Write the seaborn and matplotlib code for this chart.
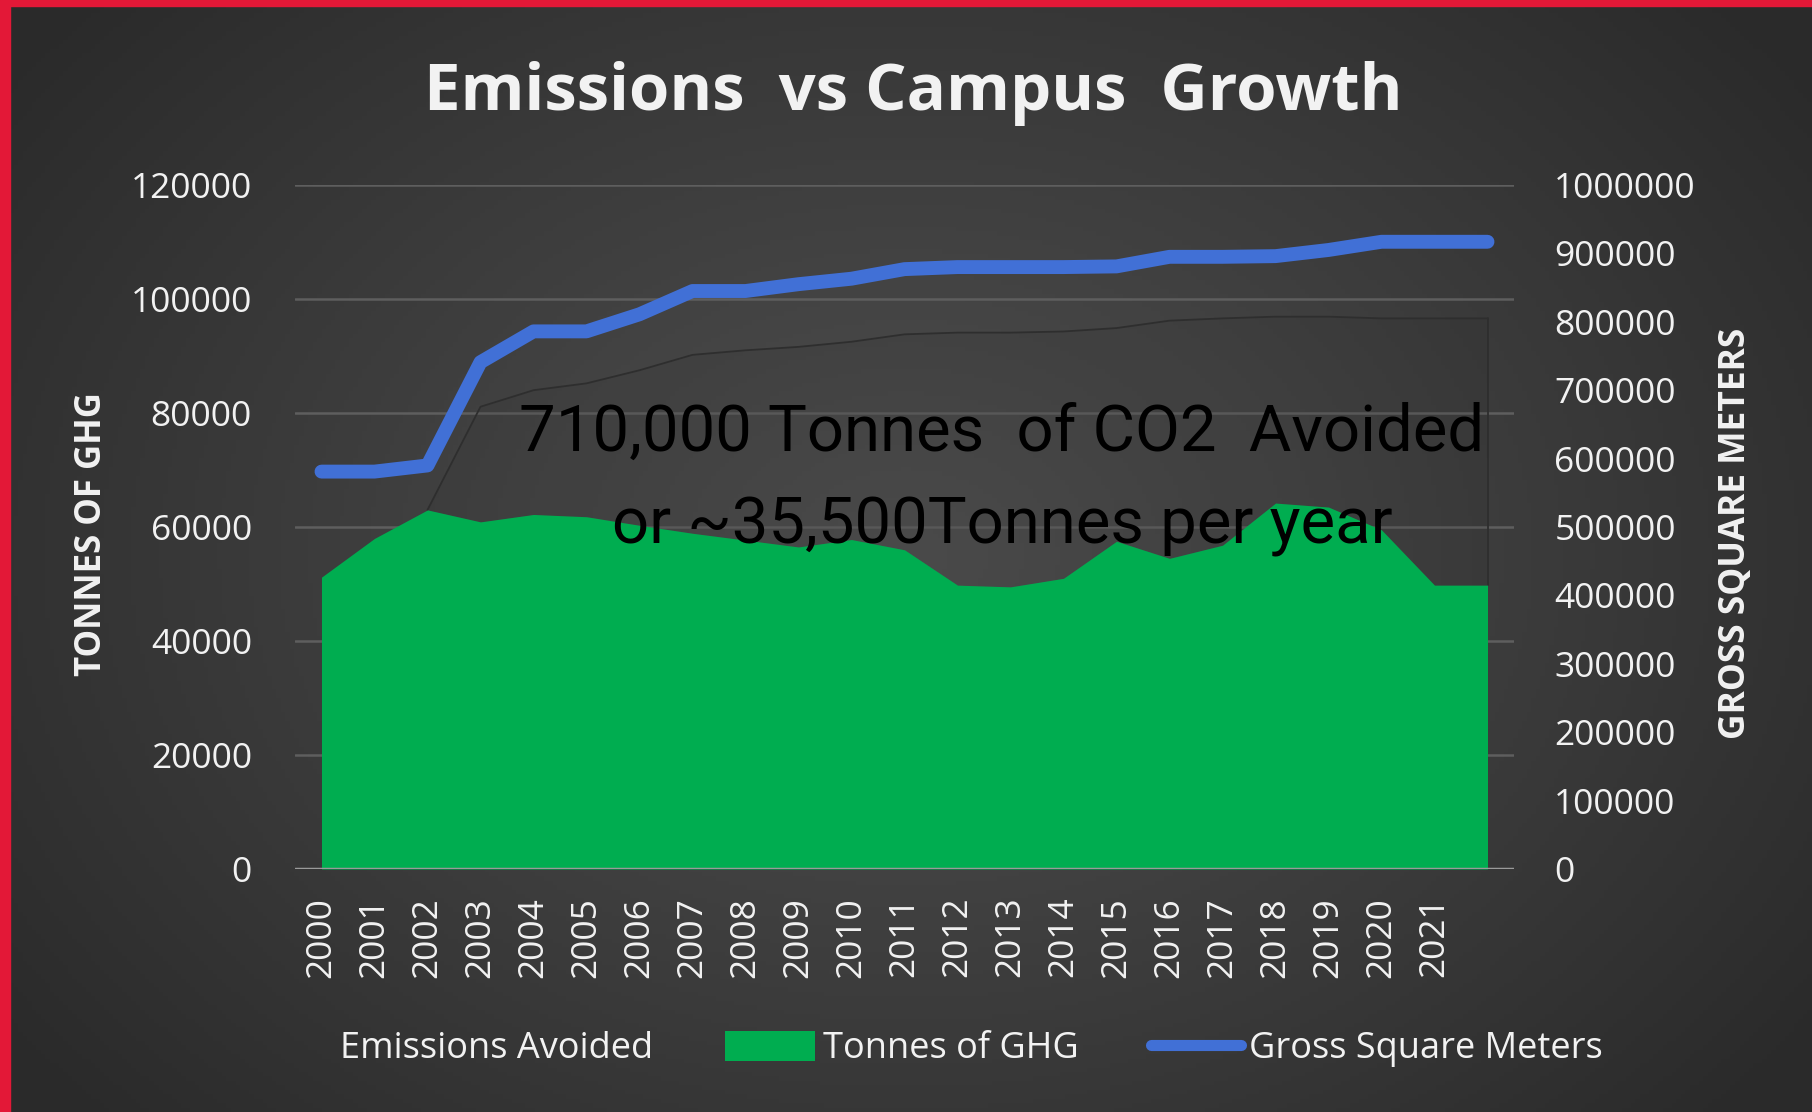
import numpy as np
import pandas as pd
import matplotlib
matplotlib.use("Agg")
import matplotlib.pyplot as plt
import seaborn as sns
from matplotlib.patches import Patch, Rectangle
from matplotlib.lines import Line2D

# ---------------- data ----------------
years = list(range(2000, 2023))
tick_labels = [str(y) for y in range(2000, 2022)]
tonnes_ghg = [51200, 58000, 63000, 60900, 62200, 61800, 60300, 58900, 57700, 56500,
              57800, 56000, 49800, 49500, 51000, 57500, 54500, 56800, 64200, 63500,
              59500, 49800, 49800]
emissions_avoided = [0, 0, 0, 20200, 21800, 23400, 27200, 31300, 33300, 35100,
                     34700, 37800, 44300, 44600, 43300, 37400, 41700, 39800, 32700, 33400,
                     37100, 46800, 46800]
gross_sq_m = [581000, 581000, 590000, 741000, 786000, 786000, 811000, 845000, 845000, 855000,
              863000, 877000, 880000, 880000, 880000, 881000, 895000, 895000, 896000, 905000,
              917000, 917000, 917000]
left_ticks = [0, 20000, 40000, 60000, 80000, 100000, 120000]
right_ticks = [0, 100000, 200000, 300000, 400000, 500000, 600000, 700000, 800000, 900000, 1000000]

title = "Emissions  vs Campus  Growth"
note_1 = "710,000 Tonnes  of CO2  Avoided"
note_2 = "or ~35,500Tonnes per year"

# ---------------- style ----------------
sns.set_theme(style="white")
plt.rcParams['font.family'] = ['Open Sans', 'DejaVu Sans']

GREEN = "#00ad50"
BLUE = "#4170d6"
TXT = "#f2f2f2"
RED = "#e31837"

W, H = 1812, 1112
fig = plt.figure(figsize=(W / 100, H / 100), dpi=100)

# background radial gradient
bg = fig.add_axes([0, 0, 1, 1], zorder=-10)
gx, gy = np.meshgrid(np.linspace(0, 1, 400), np.linspace(0, 1, 250))
r = np.sqrt(((gx - 0.5) / 0.62) ** 2 + ((gy - 0.5) / 0.75) ** 2)
r = np.clip(r, 0, 1) ** 1.1
inner = np.array([0x4e, 0x4e, 0x4e]) / 255
outer = np.array([0x2a, 0x2a, 0x2a]) / 255
img = inner[None, None, :] * (1 - r[..., None]) + outer[None, None, :] * r[..., None]
bg.imshow(img, extent=[0, 1, 0, 1], aspect='auto', origin='upper')
bg.set_xlim(0, 1); bg.set_ylim(0, 1)
bg.axis('off')

# red border (left and top)
fig.patches.append(Rectangle((0, 0), 10 / W, 1, transform=fig.transFigure, color=RED, zorder=5))
fig.patches.append(Rectangle((0, 1 - 6 / H), 1, 6 / H, transform=fig.transFigure, color=RED, zorder=5))

L, R_, B, T = 295 / W, 1514 / W, 1 - 869 / H, 1 - 185 / H
ax = fig.add_axes([L, B, R_ - L, T - B])
ax.patch.set_alpha(0)
x = np.arange(len(years))
ghg = np.array(tonnes_ghg)
avd = np.array(emissions_avoided)
top = ghg + avd

ax.fill_between(x, 0, ghg, color=GREEN, lw=0, zorder=3)
# emissions avoided: stacked on top, nearly background coloured
ax.fill_between(x, ghg, top, facecolor="#262626", alpha=0.10, lw=0, zorder=2)
ax.plot(x[2:], top[2:], color="#2e2e2e", lw=1.3, zorder=2)
ax.plot([x[-1], x[-1]], [ghg[-1], top[-1]], color="#2e2e2e", lw=1.3, zorder=2)

ax.set_xlim(-0.5, len(years) - 0.5)
ax.set_ylim(0, 120000)
ax.set_yticks(left_ticks)
ax.set_yticklabels([str(v) for v in left_ticks])
ax.set_xticks(range(len(tick_labels)))
ax.set_xticklabels(tick_labels, rotation=90)
for v in left_ticks[1:]:
    ax.axhline(v, color="#5e5e5e", lw=1.8, zorder=1)
ax.axhline(0, color="#9a9a9a", lw=2.5, zorder=4)
for s in ax.spines.values():
    s.set_visible(False)
ax.tick_params(axis='y', length=0, pad=31, labelsize=25.5, labelcolor=TXT)
ax.tick_params(axis='x', length=0, pad=20, labelsize=25.5, labelcolor=TXT)
ax.grid(False)

ax2 = ax.twinx()
ax2.patch.set_alpha(0)
df = pd.DataFrame({"i": x, "gsm": gross_sq_m})
sns.lineplot(data=df, x="i", y="gsm", ax=ax2, color=BLUE, lw=10, zorder=6)
ax2.set_ylim(0, 1000000)
ax2.set_yticks(right_ticks)
ax2.set_yticklabels([str(v) for v in right_ticks])
ax2.set_xlim(-0.5, len(years) - 0.5)
ax2.set_ylabel(""); ax2.set_xlabel("")
ax.set_xlabel(""); ax.set_ylabel("")
for s in ax2.spines.values():
    s.set_visible(False)
ax2.tick_params(axis='y', length=0, pad=29, labelsize=25.5, labelcolor=TXT)
ax2.grid(False)

# titles / labels
fig.text(0.504, 1 - 110 / H, title, ha='center', va='baseline', fontsize=47,
         fontweight='bold', color=TXT)
fig.text(92 / W, 0.52, "TONNES OF GHG", rotation=90, ha='center', va='center',
         fontsize=25, fontweight='bold', color=TXT)
fig.text(1736 / W, 0.52, "GROSS SQUARE METERS", rotation=90, ha='center', va='center',
         fontsize=25.5, fontweight='bold', color=TXT)

narrow = ['Roboto', 'DejaVu Sans']
fig.text(0.553, 1 - 433 / H, note_1, ha='center', va='center', fontsize=47,
         color='black', family=narrow, zorder=20)
fig.text(0.553, 1 - 526 / H, note_2, ha='center', va='center', fontsize=47,
         color='black', family=narrow, zorder=20)

handles = [Patch(facecolor="none", edgecolor='none'),
           Patch(facecolor=GREEN, edgecolor='none'),
           Line2D([0], [0], color=BLUE, lw=8)]
labels = ["Emissions Avoided", "Tonnes of GHG", "Gross Square Meters"]
leg = fig.legend(handles, labels, loc='center', bbox_to_anchor=(0.509, 1 - 1049 / H),
                 ncol=3, frameon=False, fontsize=26, handlelength=2.5, handleheight=0.9,
                 handletextpad=0.22, columnspacing=2.0)
for t in leg.get_texts():
    t.set_color(TXT)

fig.savefig("out.png", dpi=100)
